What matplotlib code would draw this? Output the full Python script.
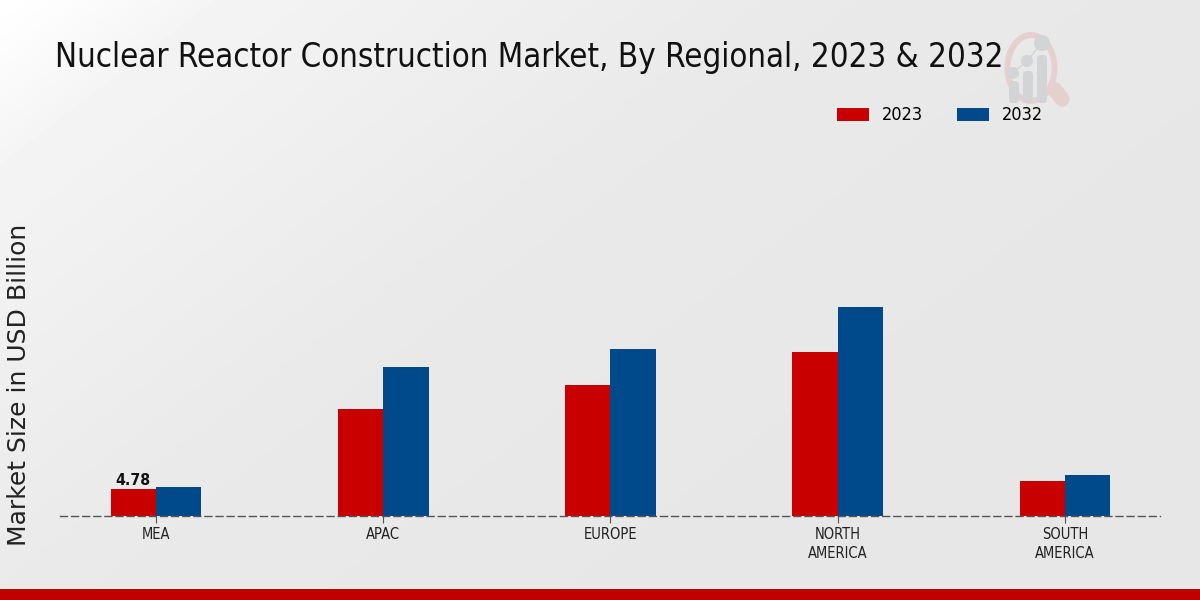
import numpy as np
import matplotlib
matplotlib.use('Agg')
import matplotlib.pyplot as plt
from matplotlib.patches import Circle, Ellipse, Rectangle, FancyBboxPatch

regions = ['MEA', 'APAC', 'EUROPE', 'NORTH\nAMERICA', 'SOUTH\nAMERICA']
values_2023 = [4.78, 18.6, 22.8, 28.5, 6.1]
values_2032 = [5.1, 25.9, 29.0, 36.3, 7.1]
series_labels = ['2023', '2032']

RED = '#c80000'
BLUE = '#004a8c'
W, H = 1200, 600

fig = plt.figure(figsize=(12, 6), dpi=100)

# Background gradient, white in the top left corner
bg = fig.add_axes([0, 0, 1, 1], zorder=0)
yy, xx = np.mgrid[0:H:150j, 0:W:300j]
shade = np.interp(xx + 1.3 * yy, [0, 60, 220, 800, 1400], [1.0, 0.99, 0.955, 0.915, 0.905])
bg.imshow(shade, cmap='gray', vmin=0, vmax=1, extent=[0, W, H, 0], aspect='auto')
bg.set_xlim(0, W)
bg.set_ylim(H, 0)
bg.axis('off')

# Bottom stripe
bg.add_patch(Rectangle((0, 589), W, 11, color='#c00000', lw=0))
bg.add_patch(Rectangle((0, 588), W, 1, color='#f2f2f2', lw=0))

# Watermark logo, slightly stretched vertically like the original
bg.add_patch(Ellipse((1031, 68), 47, 66, fill=False, ec='#e6cfcf', lw=4.3))
bg.plot([1055, 1062], [90, 99], color='#e6cfcf', lw=11, solid_capstyle='round')
bg.plot([1013, 1027, 1042], [73, 61, 43], color='#d2d4d6', lw=1)
for bx, by, r in [(1013, 73, 6), (1027, 61, 6), (1042, 43, 8)]:
    bg.add_patch(Circle((bx, by), r, color='#d2d4d6', lw=0))
for bx, top in [(1014, 81), (1028, 71), (1042, 55)]:
    bg.add_patch(FancyBboxPatch((bx - 1, top + 4), 2, 103 - top - 8,
                                boxstyle='round,pad=4', color='#d2d4d6', lw=0))

# Chart axes, baseline at y=516 px and 60..1160 px wide
ax = fig.add_axes([60 / W, (H - 516) / H, 1100 / W, 416 / H], zorder=1)
ax.patch.set_alpha(0)
x = np.arange(len(regions))
width = 0.2
bars_a = ax.bar(x - width / 2, values_2023, width, color=RED, linewidth=0,
                label=series_labels[0])
bars_b = ax.bar(x + width / 2, values_2032, width, color=BLUE, linewidth=0,
                label=series_labels[1])
ax.set_xlim(-0.4224, 4.4180)
ax.set_ylim(0, 72.35)

for side in ['top', 'right', 'left']:
    ax.spines[side].set_visible(False)
ax.spines['bottom'].set_linestyle((0, (5, 3)))
ax.spines['bottom'].set_color('#555555')
ax.spines['bottom'].set_linewidth(1.0)
ax.spines['bottom'].set_zorder(5)
ax.set_yticks([])
ax.set_xticks(x)
ax.set_xticklabels(regions, fontsize=10.5, fontstretch='condensed', color='#222222',
                   linespacing=1.3)
ax.tick_params(axis='x', length=5, width=0.8, color='#555555', pad=3)

ax.text(x[0] - width / 2, values_2023[0] + 0.1, f'{values_2023[0]:.2f}', ha='center',
        va='bottom', fontsize=11.3, fontweight='bold', fontstretch='condensed', color='#111111')

fig.text(19 / W, 1 - 385 / H, 'Market Size in USD Billion', rotation=90, ha='center',
         va='center', fontsize=18, color='#222222')
fig.text(55 / W, 1 - 58 / H, 'Nuclear Reactor Construction Market, By Regional, 2023 & 2032',
         ha='left', va='center', fontsize=23.7, fontstretch='condensed', color='#111111')

ax.legend(handles=[bars_a, bars_b], loc='center', bbox_to_anchor=(940 / W, 1 - 115.5 / H),
          bbox_transform=fig.transFigure, ncol=2, frameon=False, handlelength=1.77,
          handleheight=0.72, handletextpad=0.72, columnspacing=1.85,
          prop={'size': 13, 'stretch': 'condensed'})

fig.savefig('out.png', dpi=100)
